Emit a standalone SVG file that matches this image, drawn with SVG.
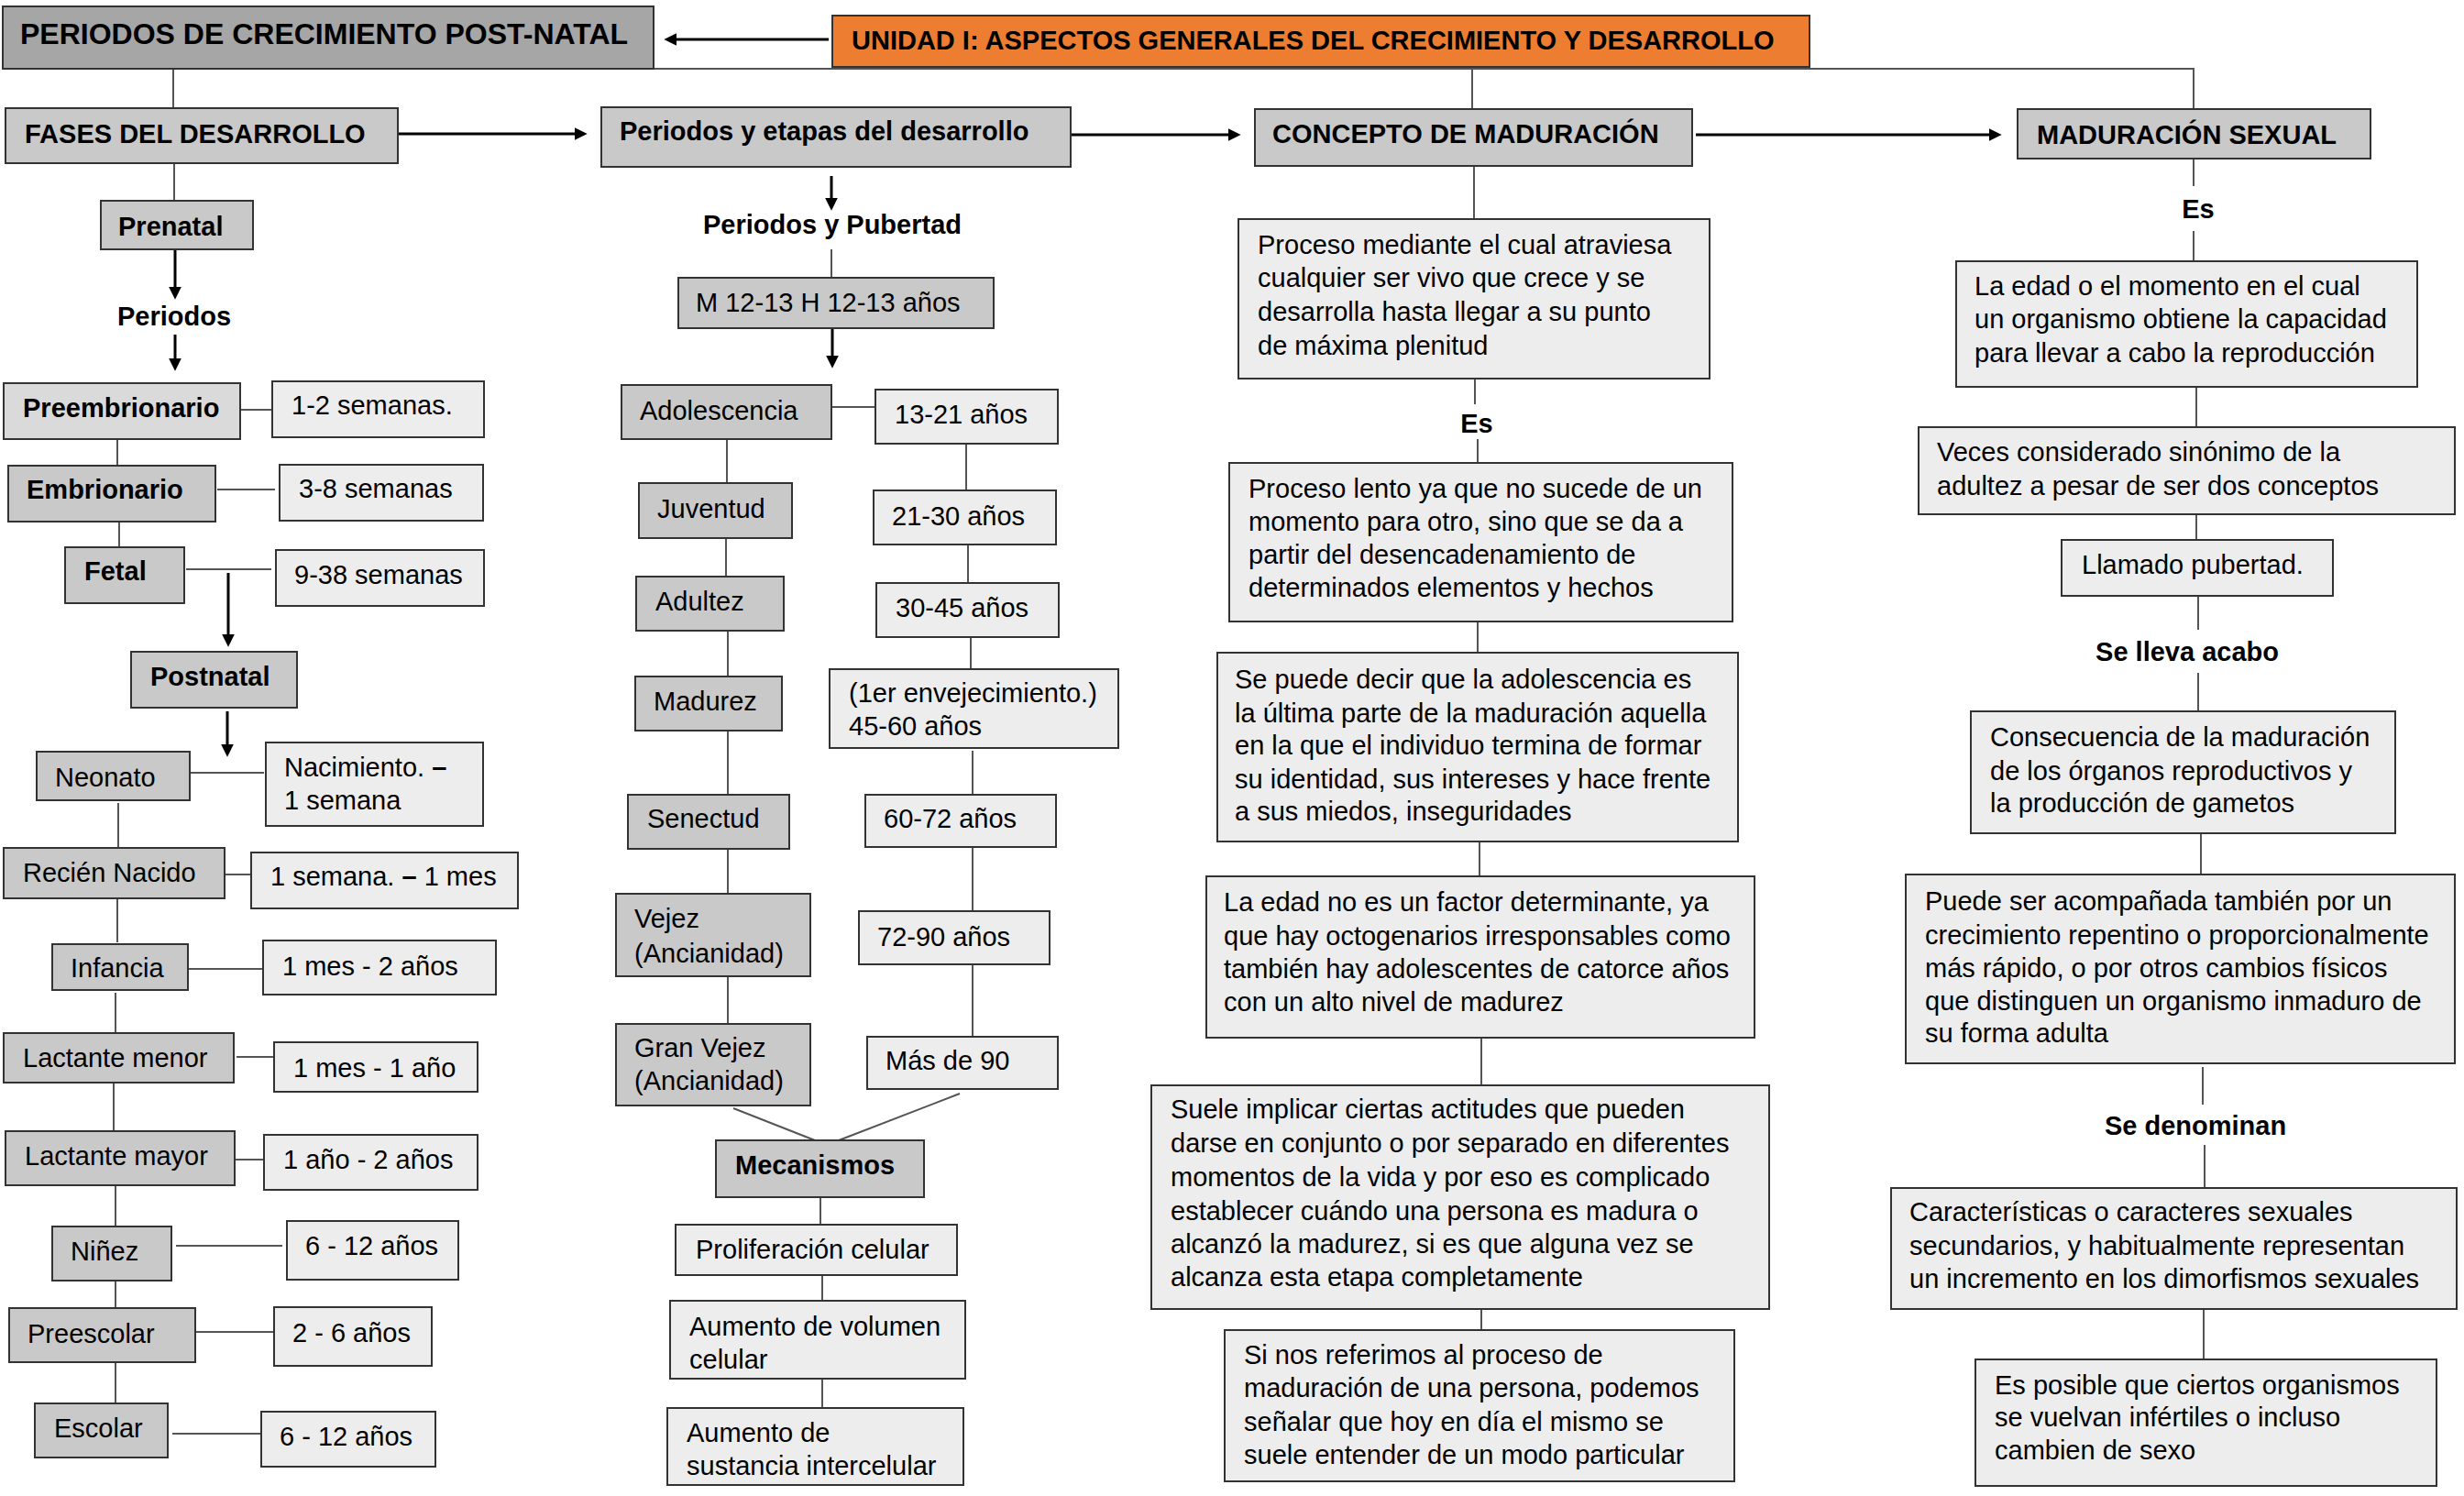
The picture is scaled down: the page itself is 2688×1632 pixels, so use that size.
<svg xmlns="http://www.w3.org/2000/svg" width="2688" height="1632" viewBox="0 0 2688 1632">
<defs>
<style>
text{font-family:"Liberation Sans",Arial,sans-serif;font-size:29px;fill:#000}
.b{font-weight:bold}
.mid{text-anchor:middle}
.title{font-size:32px;font-weight:bold}
.org{font-size:29px;font-weight:bold}
.n0{fill:#a6a6a6;stroke:#333;stroke-width:2}
.n1{fill:#c9c9c9;stroke:#333;stroke-width:2}
.n2{fill:#dadada;stroke:#333;stroke-width:2}
.nv{fill:#ededed;stroke:#333;stroke-width:2}
.no{fill:#ed7d31;stroke:#333;stroke-width:2}
.c{stroke:#555;stroke-width:2;fill:none}
.a{stroke:#000;stroke-width:3;fill:none;marker-end:url(#ah)}
</style>
<marker id="ah" viewBox="0 0 12 12" refX="2" refY="6" markerWidth="14" markerHeight="14" markerUnits="userSpaceOnUse" orient="auto">
<path d="M0,0 L12,6 L0,12 z" fill="#000"/>
</marker>
</defs>
<rect width="2688" height="1632" fill="#fff"/>

<g id="connectors">
<polyline class="c" points="189,118 189,75 2393,75 2393,119"/>
<line class="c" x1="1606" y1="75" x2="1606" y2="119"/>
<line class="a" x1="904" y1="43" x2="736" y2="43"/>
<line class="a" x1="434" y1="146" x2="629" y2="146"/>
<line class="a" x1="1168" y1="147" x2="1342" y2="147"/>
<line class="a" x1="1850" y1="147" x2="2172" y2="147"/>
<!-- left column -->
<line class="c" x1="190" y1="178" x2="190" y2="219"/>
<line class="a" x1="191" y1="272" x2="191" y2="315"/>
<line class="a" x1="191" y1="365" x2="191" y2="393"/>
<line class="c" x1="262" y1="447" x2="297" y2="447"/>
<line class="c" x1="128" y1="479" x2="128" y2="508"/>
<line class="c" x1="237" y1="534" x2="300" y2="534"/>
<line class="c" x1="130" y1="564" x2="130" y2="597"/>
<line class="c" x1="203" y1="621" x2="296" y2="621"/>
<line class="a" x1="249" y1="625" x2="249" y2="694"/>
<line class="a" x1="248" y1="776" x2="248" y2="814"/>
<line class="c" x1="207" y1="843" x2="288" y2="843"/>
<line class="c" x1="129" y1="876" x2="129" y2="925"/>
<line class="c" x1="245" y1="954" x2="274" y2="954"/>
<line class="c" x1="128" y1="980" x2="128" y2="1028"/>
<line class="c" x1="205" y1="1057" x2="286" y2="1057"/>
<line class="c" x1="126" y1="1083" x2="126" y2="1128"/>
<line class="c" x1="258" y1="1153" x2="298" y2="1153"/>
<line class="c" x1="124" y1="1181" x2="124" y2="1234"/>
<line class="c" x1="254" y1="1265" x2="291" y2="1265"/>
<line class="c" x1="126" y1="1293" x2="126" y2="1338"/>
<line class="c" x1="192" y1="1359" x2="308" y2="1359"/>
<line class="c" x1="126" y1="1397" x2="126" y2="1427"/>
<line class="c" x1="213" y1="1453" x2="298" y2="1453"/>
<line class="c" x1="126" y1="1486" x2="126" y2="1532"/>
<line class="c" x1="188" y1="1564" x2="285" y2="1564"/>
<!-- middle column -->
<line class="a" x1="907" y1="192" x2="907" y2="218"/>
<line class="c" x1="907" y1="272" x2="907" y2="303"/>
<line class="a" x1="908" y1="358" x2="908" y2="390"/>
<line class="c" x1="907" y1="444" x2="955" y2="444"/>
<line class="c" x1="793" y1="479" x2="793" y2="527"/>
<line class="c" x1="1054" y1="484" x2="1054" y2="535"/>
<line class="c" x1="792" y1="587" x2="792" y2="629"/>
<line class="c" x1="1056" y1="591" x2="1056" y2="636"/>
<line class="c" x1="794" y1="688" x2="794" y2="738"/>
<line class="c" x1="1059" y1="693" x2="1059" y2="730"/>
<line class="c" x1="794" y1="797" x2="794" y2="867"/>
<line class="c" x1="1061" y1="819" x2="1061" y2="867"/>
<line class="c" x1="794" y1="926" x2="794" y2="975"/>
<line class="c" x1="1061" y1="924" x2="1061" y2="994"/>
<line class="c" x1="794" y1="1065" x2="794" y2="1117"/>
<line class="c" x1="1061" y1="1048" x2="1061" y2="1131"/>
<line class="c" x1="800" y1="1209" x2="889" y2="1244"/>
<line class="c" x1="1047" y1="1193" x2="915" y2="1244"/>
<line class="c" x1="895" y1="1306" x2="895" y2="1336"/>
<line class="c" x1="897" y1="1391" x2="897" y2="1419"/>
<line class="c" x1="897" y1="1504" x2="897" y2="1536"/>
<!-- concept column -->
<line class="c" x1="1608" y1="181" x2="1608" y2="239"/>
<line class="c" x1="1609" y1="413" x2="1609" y2="441"/>
<line class="c" x1="1612" y1="479" x2="1612" y2="505"/>
<line class="c" x1="1612" y1="678" x2="1612" y2="712"/>
<line class="c" x1="1614" y1="918" x2="1614" y2="956"/>
<line class="c" x1="1616" y1="1132" x2="1616" y2="1184"/>
<line class="c" x1="1616" y1="1428" x2="1616" y2="1451"/>
<!-- sexual column -->
<line class="c" x1="2393" y1="173" x2="2393" y2="203"/>
<line class="c" x1="2393" y1="252" x2="2393" y2="285"/>
<line class="c" x1="2396" y1="422" x2="2396" y2="466"/>
<line class="c" x1="2396" y1="561" x2="2396" y2="589"/>
<line class="c" x1="2398" y1="650" x2="2398" y2="687"/>
<line class="c" x1="2398" y1="734" x2="2398" y2="776"/>
<line class="c" x1="2401" y1="909" x2="2401" y2="954"/>
<line class="c" x1="2403" y1="1164" x2="2403" y2="1205"/>
<line class="c" x1="2405" y1="1249" x2="2405" y2="1296"/>
<line class="c" x1="2404" y1="1428" x2="2404" y2="1483"/>
</g>

<g id="title"><rect class="n0" x="3" y="7" width="710" height="68"/><text class="title" x="22" y="48">PERIODOS DE CRECIMIENTO POST-NATAL</text></g>
<g id="unidad"><rect class="no" x="908" y="17" width="1066" height="56"/><text class="org" x="929" y="54">UNIDAD I: ASPECTOS GENERALES DEL CRECIMIENTO Y DESARROLLO</text></g>
<g id="fases"><rect class="n1" x="6" y="118" width="428" height="60"/><text class="b" x="27" y="156">FASES DEL DESARROLLO</text></g>
<g id="periodos-etapas"><rect class="n1" x="656" y="117" width="512" height="65"/><text class="b" x="676" y="153">Periodos y etapas del desarrollo</text></g>
<g id="concepto"><rect class="n1" x="1369" y="119" width="477" height="62"/><text class="b" x="1388" y="156">CONCEPTO DE MADURACIÓN</text></g>
<g id="sexual"><rect class="n1" x="2201" y="119" width="385" height="54"/><text class="b" x="2222" y="157">MADURACIÓN SEXUAL</text></g>

<!-- left column -->
<g id="prenatal"><rect class="n1" x="110" y="219" width="166" height="53"/><text class="b" x="129" y="257">Prenatal</text></g>
<g id="lbl-periodos"><text class="b mid" x="190" y="355">Periodos</text></g>
<g id="preembrionario"><rect class="n2" x="4" y="418" width="258" height="61"/><text class="b" x="25" y="455">Preembrionario</text></g>
<g id="v-1-2"><rect class="nv" x="297" y="416" width="231" height="61"/><text x="318" y="452">1-2 semanas.</text></g>
<g id="embrionario"><rect class="n1" x="9" y="508" width="226" height="61"/><text class="b" x="29" y="544">Embrionario</text></g>
<g id="v-3-8"><rect class="nv" x="305" y="507" width="222" height="61"/><text x="326" y="543">3-8 semanas</text></g>
<g id="fetal"><rect class="n1" x="71" y="597" width="130" height="61"/><text class="b" x="92" y="633">Fetal</text></g>
<g id="v-9-38"><rect class="nv" x="301" y="600" width="227" height="61"/><text x="321" y="637">9-38 semanas</text></g>
<g id="postnatal"><rect class="n1" x="143" y="711" width="181" height="61"/><text class="b" x="164" y="748">Postnatal</text></g>
<g id="neonato"><rect class="n1" x="40" y="820" width="167" height="53"/><text x="60" y="858">Neonato</text></g>
<g id="v-nac"><rect class="nv" x="290" y="810" width="237" height="91"/><text x="310" y="847">Nacimiento. <tspan class="b">–</tspan></text><text x="310" y="883">1 semana</text></g>
<g id="recien"><rect class="n1" x="4" y="925" width="241" height="55"/><text x="25" y="962">Recién Nacido</text></g>
<g id="v-1s-1m"><rect class="nv" x="274" y="930" width="291" height="61"/><text x="295" y="966">1 semana. <tspan class="b">–</tspan> 1 mes</text></g>
<g id="infancia"><rect class="n1" x="57" y="1030" width="148" height="50"/><text x="77" y="1066">Infancia</text></g>
<g id="v-1m-2a"><rect class="nv" x="287" y="1026" width="254" height="59"/><text x="308" y="1064">1 mes - 2 años</text></g>
<g id="lact-menor"><rect class="n1" x="4" y="1127" width="251" height="54"/><text x="25" y="1164">Lactante menor</text></g>
<g id="v-1m-1a"><rect class="nv" x="299" y="1137" width="222" height="54"/><text x="320" y="1175">1 mes - 1 año</text></g>
<g id="lact-mayor"><rect class="n1" x="6" y="1234" width="250" height="59"/><text x="27" y="1271">Lactante mayor</text></g>
<g id="v-1a-2a"><rect class="nv" x="288" y="1238" width="233" height="60"/><text x="309" y="1275">1 año - 2 años</text></g>
<g id="ninez"><rect class="n1" x="57" y="1338" width="130" height="59"/><text x="77" y="1375">Niñez</text></g>
<g id="v-6-12a"><rect class="nv" x="313" y="1332" width="187" height="64"/><text x="333" y="1369">6 - 12 años</text></g>
<g id="preescolar"><rect class="n1" x="10" y="1427" width="203" height="59"/><text x="30" y="1465">Preescolar</text></g>
<g id="v-2-6"><rect class="nv" x="299" y="1426" width="172" height="64"/><text x="319" y="1464">2 - 6 años</text></g>
<g id="escolar"><rect class="n1" x="38" y="1531" width="145" height="59"/><text x="59" y="1568">Escolar</text></g>
<g id="v-6-12b"><rect class="nv" x="285" y="1540" width="190" height="60"/><text x="305" y="1577">6 - 12 años</text></g>

<!-- middle column -->
<g id="lbl-pubertad"><text class="b mid" x="908" y="255">Periodos y Pubertad</text></g>
<g id="m-h"><rect class="n1" x="740" y="303" width="344" height="55"/><text x="759" y="340">M 12-13 H 12-13 años</text></g>
<g id="adolescencia"><rect class="n1" x="678" y="420" width="229" height="59"/><text x="698" y="458">Adolescencia</text></g>
<g id="v-13-21"><rect class="nv" x="955" y="425" width="199" height="59"/><text x="976" y="462">13-21 años</text></g>
<g id="juventud"><rect class="n1" x="697" y="527" width="167" height="60"/><text x="717" y="565">Juventud</text></g>
<g id="v-21-30"><rect class="nv" x="953" y="535" width="199" height="59"/><text x="973" y="573">21-30 años</text></g>
<g id="adultez"><rect class="n1" x="694" y="629" width="161" height="59"/><text x="715" y="666">Adultez</text></g>
<g id="v-30-45"><rect class="nv" x="956" y="636" width="199" height="59"/><text x="977" y="673">30-45 años</text></g>
<g id="madurez"><rect class="n1" x="693" y="738" width="160" height="59"/><text x="713" y="775">Madurez</text></g>
<g id="v-45-60"><rect class="nv" x="905" y="730" width="315" height="86"/><text x="926" y="766">(1er envejecimiento.)</text><text x="926" y="802">45-60 años</text></g>
<g id="senectud"><rect class="n1" x="685" y="867" width="176" height="59"/><text x="706" y="903">Senectud</text></g>
<g id="v-60-72"><rect class="nv" x="944" y="867" width="208" height="57"/><text x="964" y="903">60-72 años</text></g>
<g id="vejez"><rect class="n1" x="672" y="975" width="212" height="90"/><text x="692" y="1012">Vejez</text><text x="692" y="1050">(Ancianidad)</text></g>
<g id="v-72-90"><rect class="nv" x="937" y="994" width="208" height="58"/><text x="957" y="1032">72-90 años</text></g>
<g id="gran-vejez"><rect class="n1" x="672" y="1117" width="212" height="89"/><text x="692" y="1153">Gran Vejez</text><text x="692" y="1189">(Ancianidad)</text></g>
<g id="v-90"><rect class="nv" x="946" y="1131" width="208" height="57"/><text x="966" y="1167">Más de 90</text></g>
<g id="mecanismos"><rect class="n1" x="781" y="1244" width="227" height="62"/><text class="b" x="802" y="1281">Mecanismos</text></g>
<g id="proliferacion"><rect class="nv" x="737" y="1336" width="307" height="55"/><text x="759" y="1373">Proliferación celular</text></g>
<g id="volumen"><rect class="nv" x="731" y="1419" width="322" height="85"/><text x="752" y="1457">Aumento de volumen</text><text x="752" y="1493">celular</text></g>
<g id="sustancia"><rect class="nv" x="728" y="1536" width="323" height="84"/><text x="749" y="1573">Aumento de</text><text x="749" y="1609">sustancia intercelular</text></g>

<!-- concept column -->
<g id="c1"><rect class="nv" x="1351" y="239" width="514" height="174"/><text x="1372" y="277">Proceso mediante el cual atraviesa</text><text x="1372" y="313">cualquier ser vivo que crece y se</text><text x="1372" y="350">desarrolla hasta llegar a su punto</text><text x="1372" y="387">de máxima plenitud</text></g>
<g id="lbl-es1"><text class="b mid" x="1611" y="472">Es</text></g>
<g id="c2"><rect class="nv" x="1341" y="505" width="549" height="173"/><text x="1362" y="543">Proceso lento ya que no sucede de un</text><text x="1362" y="579">momento para otro, sino que se da a</text><text x="1362" y="615">partir del desencadenamiento de</text><text x="1362" y="651">determinados elementos y hechos</text></g>
<g id="c3"><rect class="nv" x="1328" y="712" width="568" height="206"/><text x="1347" y="751">Se puede decir que la adolescencia es</text><text x="1347" y="788">la última parte de la maduración aquella</text><text x="1347" y="823">en la que el individuo termina de formar</text><text x="1347" y="860">su identidad, sus intereses y hace frente</text><text x="1347" y="895">a sus miedos, inseguridades</text></g>
<g id="c4"><rect class="nv" x="1316" y="956" width="598" height="176"/><text x="1335" y="994">La edad no es un factor determinante, ya</text><text x="1335" y="1031">que hay octogenarios irresponsables como</text><text x="1335" y="1067">también hay adolescentes de catorce años</text><text x="1335" y="1103">con un alto nivel de madurez</text></g>
<g id="c5"><rect class="nv" x="1256" y="1184" width="674" height="244"/><text x="1277" y="1220">Suele implicar ciertas actitudes que pueden</text><text x="1277" y="1257">darse en conjunto o por separado en diferentes</text><text x="1277" y="1294">momentos de la vida y por eso es complicado</text><text x="1277" y="1331">establecer cuándo una persona es madura o</text><text x="1277" y="1367">alcanzó la madurez, si es que alguna vez se</text><text x="1277" y="1403">alcanza esta etapa completamente</text></g>
<g id="c6"><rect class="nv" x="1336" y="1451" width="556" height="165"/><text x="1357" y="1488">Si nos referimos al proceso de</text><text x="1357" y="1524">maduración de una persona, podemos</text><text x="1357" y="1561">señalar que hoy en día el mismo se</text><text x="1357" y="1597">suele entender de un modo particular</text></g>

<!-- sexual column -->
<g id="lbl-es2"><text class="b mid" x="2398" y="238">Es</text></g>
<g id="s1"><rect class="nv" x="2134" y="285" width="503" height="137"/><text x="2154" y="322">La edad o el momento en el cual</text><text x="2154" y="358">un organismo obtiene la capacidad</text><text x="2154" y="395">para llevar a cabo la reproducción</text></g>
<g id="s2"><rect class="nv" x="2093" y="466" width="585" height="95"/><text x="2113" y="503">Veces considerado sinónimo de la</text><text x="2113" y="540">adultez a pesar de ser dos conceptos</text></g>
<g id="s3"><rect class="nv" x="2249" y="589" width="296" height="61"/><text x="2271" y="626">Llamado pubertad.</text></g>
<g id="lbl-lleva"><text class="b mid" x="2386" y="721">Se lleva acabo</text></g>
<g id="s4"><rect class="nv" x="2150" y="776" width="463" height="133"/><text x="2171" y="814">Consecuencia de la maduración</text><text x="2171" y="851">de los órganos reproductivos y</text><text x="2171" y="886">la producción de gametos</text></g>
<g id="s5"><rect class="nv" x="2079" y="954" width="599" height="206"/><text x="2100" y="993">Puede ser acompañada también por un</text><text x="2100" y="1030">crecimiento repentino o proporcionalmente</text><text x="2100" y="1066">más rápido, o por otros cambios físicos</text><text x="2100" y="1102">que distinguen un organismo inmaduro de</text><text x="2100" y="1137">su forma adulta</text></g>
<g id="lbl-denominan"><text class="b mid" x="2395" y="1238">Se denominan</text></g>
<g id="s6"><rect class="nv" x="2063" y="1296" width="617" height="132"/><text x="2083" y="1332">Características o caracteres sexuales</text><text x="2083" y="1369">secundarios, y habitualmente representan</text><text x="2083" y="1405">un incremento en los dimorfismos sexuales</text></g>
<g id="s7"><rect class="nv" x="2155" y="1483" width="503" height="138"/><text x="2176" y="1521">Es posible que ciertos organismos</text><text x="2176" y="1556">se vuelvan infértiles o incluso</text><text x="2176" y="1592">cambien de sexo</text></g>
</svg>
